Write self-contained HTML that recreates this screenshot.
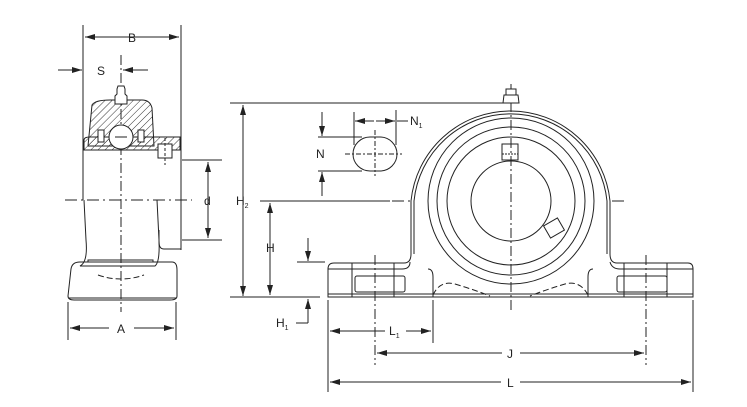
<!DOCTYPE html>
<html><head><meta charset="utf-8"><style>
html,body{margin:0;padding:0;background:#fff;}
svg{display:block;}
text{font-family:"Liberation Sans",sans-serif;font-size:12px;fill:#222;}
.s{font-size:7px;}
</style></head><body>
<svg width="747" height="407" viewBox="0 0 747 407" xmlns="http://www.w3.org/2000/svg">
<defs>
<marker id="a" viewBox="0 0 10 6" refX="10" refY="3" markerWidth="10" markerHeight="6" orient="auto-start-reverse" markerUnits="userSpaceOnUse"><path d="M0,0L10,3L0,6z" fill="#222"/></marker>
<pattern id="h" width="5" height="5" patternUnits="userSpaceOnUse" patternTransform="rotate(45)"><line x1="0" y1="0" x2="0" y2="5" stroke="#333" stroke-width="1"/></pattern>
</defs>
<g fill="none" stroke="#222" stroke-width="1">
<!-- LEFT VIEW -->
<line x1="83" y1="25" x2="83" y2="200"/>
<line x1="181" y1="25" x2="181" y2="250"/>
<line x1="85" y1="37" x2="179" y2="37" marker-start="url(#a)" marker-end="url(#a)"/>
<line x1="58" y1="70" x2="82" y2="70" marker-end="url(#a)"/>
<line x1="148" y1="70" x2="123" y2="70" marker-end="url(#a)"/>
<line x1="121" y1="55" x2="121" y2="312" stroke-dasharray="10,3,2,3"/>
<path d="M92,105 Q95,100 110,100 H142 Q150,100 152,108 L154,146 H88 Z" fill="url(#h)"/>
<path d="M84,150 V140 Q84,137 90,137 H180 V150 Z" fill="url(#h)"/>
<path d="M118,86h6l1,3v5l2,2v8h-12v-8l2,-2v-5z" fill="#fff"/>
<circle cx="121" cy="137" r="12" fill="#fff"/>
<rect x="98" y="130" width="6" height="12" fill="#fff"/>
<rect x="138" y="130" width="6" height="12" fill="#fff"/>
<rect x="158" y="144" width="14" height="14" fill="#fff"/>
<line x1="165" y1="138" x2="165" y2="165" stroke-dasharray="3,2"/>
<line x1="115" y1="137" x2="127" y2="137"/>
<path d="M84,200 L86,240 Q88,262 80,266 H155 Q160,262 159,240 L157,200"/>
<path d="M159,230 V242 Q159,249 164,249 H181"/>
<path d="M71,269 Q72,262 80,262 H172 Q177,262 177,270 V296 Q177,300 170,300 H74 Q68,300 68,296 Z"/>
<line x1="69" y1="298" x2="176" y2="298"/>
<path d="M88,262 V260 H153 V262"/>
<path d="M98,275 Q121,283 144,275" stroke-dasharray="6,3"/>
<line x1="65" y1="200" x2="192" y2="200" stroke-dasharray="12,4,2,4"/>
<line x1="182" y1="160" x2="222" y2="160"/>
<line x1="182" y1="240" x2="222" y2="240"/>
<line x1="208" y1="162" x2="208" y2="238" marker-start="url(#a)" marker-end="url(#a)"/>
<line x1="68" y1="302" x2="68" y2="340"/>
<line x1="176" y1="302" x2="176" y2="340"/>
<line x1="70" y1="328" x2="109" y2="328" marker-start="url(#a)"/>
<line x1="134" y1="328" x2="174" y2="328" marker-end="url(#a)"/>

<!-- RIGHT VIEW -->
<line x1="230" y1="103" x2="510" y2="103"/>
<line x1="243" y1="105" x2="243" y2="296" marker-start="url(#a)" marker-end="url(#a)"/>
<line x1="230" y1="297" x2="320" y2="297"/>
<line x1="260" y1="201" x2="390" y2="201"/>
<line x1="392" y1="201" x2="625" y2="201" stroke-dasharray="12,4,2,4"/>
<line x1="270" y1="203" x2="270" y2="295" marker-start="url(#a)" marker-end="url(#a)"/>
<line x1="297" y1="262" x2="325" y2="262"/>
<line x1="308" y1="238" x2="308" y2="261" marker-end="url(#a)"/>
<line x1="308" y1="323" x2="308" y2="299" marker-end="url(#a)"/>
<line x1="296" y1="323" x2="308" y2="323"/>
<rect x="353" y="137" width="44" height="34" rx="17"/>
<line x1="345" y1="154" x2="402" y2="154" stroke-dasharray="5,2,2,2"/>
<line x1="375" y1="130" x2="375" y2="176" stroke-dasharray="5,2,2,2"/>
<line x1="354" y1="112" x2="354" y2="145"/>
<line x1="396" y1="110" x2="396" y2="145"/>
<line x1="355" y1="121" x2="374" y2="121" marker-start="url(#a)"/>
<line x1="376" y1="121" x2="395" y2="121" marker-end="url(#a)"/>
<line x1="397" y1="121" x2="408" y2="121"/>
<line x1="318" y1="137" x2="362" y2="137"/>
<line x1="318" y1="171" x2="362" y2="171"/>
<line x1="322" y1="112" x2="322" y2="136" marker-end="url(#a)"/>
<line x1="322" y1="196" x2="322" y2="172" marker-end="url(#a)"/>
<path d="M328,297 V269 Q328,263 334,263 H404 Q411,263 411,254 V201 A100,100 0 0 1 610,201 V254 Q610,263 617,263 H688 Q693,263 693,269 V297 Z" fill="#fff"/>
<path d="M414,254 V201 A97,97 0 0 1 607,201 V254"/>
<path d="M328,269 H402 Q410,269 410,262 M610,262 Q612,269 620,269 H693"/>
<path d="M433,297 V277 Q433,269 428,269 M588,297 V277 Q588,269 593,269"/>
<line x1="328" y1="294" x2="693" y2="294"/>
<path d="M433,295 Q440,280 455,284 Q475,290 490,296 M588,295 Q580,280 565,284 Q545,290 530,296" stroke-dasharray="6,3"/>
<circle cx="511" cy="201" r="83"/>
<circle cx="511" cy="201" r="74"/>
<circle cx="511" cy="201" r="64"/>
<circle cx="511" cy="201" r="40"/>
<rect x="502" y="144" width="16" height="16" fill="#fff"/>
<line x1="502" y1="154" x2="518" y2="154" stroke-dasharray="2,1"/>
<rect x="546" y="221" width="16" height="14" transform="rotate(-30 554 228)" fill="#fff"/>
<rect x="355" y="276" width="50" height="16" rx="2"/>
<rect x="617" y="276" width="50" height="16" rx="2"/>
<line x1="352" y1="263" x2="352" y2="297"/>
<line x1="394" y1="263" x2="394" y2="297"/>
<line x1="624" y1="263" x2="624" y2="297"/>
<line x1="667" y1="263" x2="667" y2="297"/>
<line x1="375" y1="255" x2="375" y2="365" stroke-dasharray="10,3,2,3"/>
<line x1="646" y1="255" x2="646" y2="365" stroke-dasharray="10,3,2,3"/>
<line x1="511" y1="84" x2="511" y2="310" stroke-dasharray="10,3,2,3"/>
<path d="M506,89h10v6h-10z M504,95h14l1,8h-16z" fill="#fff"/>
<line x1="328" y1="300" x2="328" y2="392"/>
<line x1="693" y1="300" x2="693" y2="392"/>
<line x1="433" y1="300" x2="433" y2="343"/>
<line x1="330" y1="331" x2="385" y2="331" marker-start="url(#a)"/>
<line x1="406" y1="331" x2="431" y2="331" marker-end="url(#a)"/>
<line x1="377" y1="353" x2="502" y2="353" marker-start="url(#a)"/>
<line x1="520" y1="353" x2="644" y2="353" marker-end="url(#a)"/>
<line x1="330" y1="382" x2="501" y2="382" marker-start="url(#a)"/>
<line x1="520" y1="382" x2="691" y2="382" marker-end="url(#a)"/>
</g>
<text x="128" y="42">B</text>
<text x="97" y="75">S</text>
<text x="204" y="205">d</text>
<text x="117" y="333">A</text>
<text x="236" y="205">H<tspan class="s" dy="3">2</tspan></text>
<text x="266" y="252">H</text>
<text x="276" y="327">H<tspan class="s" dy="3">1</tspan></text>
<text x="316" y="158">N</text>
<text x="410" y="125">N<tspan class="s" dy="3">1</tspan></text>
<text x="389" y="335">L<tspan class="s" dy="3">1</tspan></text>
<text x="507" y="358">J</text>
<text x="507" y="387">L</text>
</svg>
</body></html>
